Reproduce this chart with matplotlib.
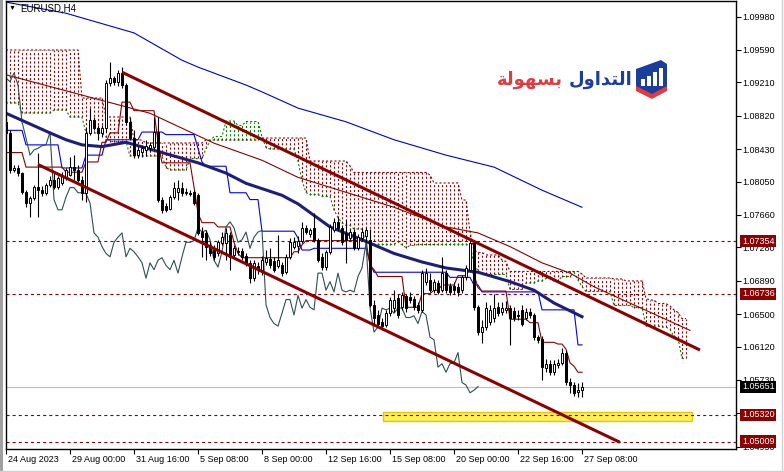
import numpy as np
import matplotlib
matplotlib.use('Agg')
import matplotlib.pyplot as plt
from matplotlib.patches import Rectangle, Polygon
from matplotlib.collections import LineCollection
import matplotlib.transforms as mtransforms

plt.rcParams['font.family'] = ['Liberation Sans', 'DejaVu Sans']
plt.rcParams['lines.scale_dashes'] = False

# ---------------- data (EURUSD H4) ----------------
opens = [1.0875,1.0862,1.0819,1.0821,1.0815,1.0793,1.0780,1.0786,1.0799,1.0795,
         1.0792,1.0801,1.0807,1.0799,1.0803,1.0809,1.0813,1.0822,1.0819,1.0807,
         1.0792,1.0862,1.0877,1.0868,1.0862,1.0868,1.0920,1.0926,1.0922,1.0932,
         1.0918,1.0875,1.0856,1.0836,1.0840,1.0842,1.0844,1.0846,1.0863,1.0784,
         1.0777,1.0773,1.0787,1.0793,1.0798,1.0793,1.0792,1.0793,1.0789,1.0746,
         1.0745,1.0731,1.0725,1.0721,1.0733,1.0733,1.0743,1.0719,1.0724,1.0724,
         1.0718,1.0710,1.0692,1.0706,1.0699,1.0711,1.0714,1.0712,1.0706,1.0707,
         1.0699,1.0717,1.0729,1.0730,1.0736,1.0751,1.0744,1.0751,1.0737,1.0717,
         1.0705,1.0723,1.0748,1.0758,1.0751,1.0745,1.0739,1.0746,1.0727,1.0739,
         1.0741,1.0737,1.0661,1.0649,1.0641,1.0637,1.0651,1.0657,1.0669,1.0658,
         1.0671,1.0670,1.0668,1.0661,1.0655,1.0688,1.0690,1.0678,1.0686,1.0678,
         1.0698,1.0683,1.0683,1.0682,1.0678,1.0694,1.0702,1.0733,1.0658,1.0629,
         1.0635,1.0641,1.0646,1.0658,1.0652,1.0655,1.0657,1.0654,1.0649,1.0655,
         1.0646,1.0653,1.0649,1.0623,1.0621,1.0587,1.0592,1.0582,1.0590,1.0593,
         1.0605,1.0571,1.0567,1.0559,1.0561]
highs = [1.0879,1.0865,1.0824,1.0824,1.0816,1.0795,1.0788,1.0801,1.0839,1.0800,
         1.0803,1.0812,1.0815,1.0812,1.0816,1.0821,1.0834,1.0836,1.0824,1.0812,
         1.0868,1.0891,1.0881,1.0871,1.0871,1.0924,1.0945,1.0929,1.0936,1.0939,
         1.0920,1.0879,1.0865,1.0846,1.0848,1.0854,1.0851,1.0881,1.0881,1.0787,
         1.0780,1.0789,1.0805,1.0807,1.0805,1.0798,1.0795,1.0795,1.0792,1.0752,
         1.0748,1.0734,1.0731,1.0737,1.0746,1.0751,1.0746,1.0731,1.0728,1.0727,
         1.0721,1.0713,1.0713,1.0711,1.0718,1.0725,1.0727,1.0717,1.0743,1.0711,
         1.0720,1.0739,1.0740,1.0741,1.0758,1.0754,1.0751,1.0768,1.0739,1.0721,
         1.0725,1.0756,1.0762,1.0764,1.0754,1.0760,1.0751,1.0750,1.0744,1.0751,
         1.0752,1.0750,1.0667,1.0655,1.0646,1.0655,1.0670,1.0678,1.0674,1.0676,
         1.0674,1.0676,1.0671,1.0664,1.0702,1.0704,1.0698,1.0691,1.0690,1.0717,
         1.0702,1.0686,1.0688,1.0686,1.0696,1.0708,1.0737,1.0737,1.0661,1.0643,
         1.0664,1.0661,1.0674,1.0664,1.0664,1.0665,1.0661,1.0658,1.0655,1.0661,
         1.0657,1.0657,1.0651,1.0626,1.0624,1.0598,1.0596,1.0596,1.0598,1.0610,
         1.0608,1.0575,1.0571,1.0569,1.0571]
lows = [1.0858,1.0815,1.0816,1.0812,1.0791,1.0775,1.0764,1.0784,1.0764,1.0788,
        1.0789,1.0799,1.0796,1.0796,1.0801,1.0807,1.0811,1.0807,1.0805,1.0784,
        1.0781,1.0860,1.0865,1.0854,1.0857,1.0863,1.0917,1.0918,1.0917,1.0915,
        1.0871,1.0854,1.0833,1.0833,1.0834,1.0835,1.0840,1.0843,1.0781,1.0768,
        1.0770,1.0772,1.0785,1.0784,1.0788,1.0789,1.0788,1.0778,1.0743,1.0717,
        1.0713,1.0718,1.0713,1.0718,1.0731,1.0713,1.0702,1.0716,1.0719,1.0713,
        1.0706,1.0686,1.0689,1.0697,1.0696,1.0707,1.0704,1.0699,1.0704,1.0695,
        1.0697,1.0714,1.0726,1.0721,1.0733,1.0744,1.0740,1.0734,1.0711,1.0702,
        1.0702,1.0720,1.0746,1.0748,1.0731,1.0710,1.0737,1.0725,1.0725,1.0737,
        1.0734,1.0658,1.0639,1.0635,1.0631,1.0635,1.0648,1.0653,1.0646,1.0655,
        1.0653,1.0663,1.0655,1.0651,1.0652,1.0684,1.0676,1.0675,1.0674,1.0676,
        1.0675,1.0672,1.0674,1.0671,1.0675,1.0690,1.0699,1.0655,1.0626,1.0616,
        1.0631,1.0637,1.0641,1.0648,1.0649,1.0651,1.0614,1.0642,1.0643,1.0636,
        1.0643,1.0646,1.0620,1.0616,1.0573,1.0582,1.0579,1.0579,1.0587,1.0590,
        1.0567,1.0558,1.0554,1.0553,1.0553]
closes = [1.0862,1.0819,1.0821,1.0815,1.0793,1.0780,1.0786,1.0799,1.0795,1.0792,
          1.0801,1.0807,1.0799,1.0809,1.0813,1.0819,1.0822,1.0819,1.0807,1.0792,
          1.0862,1.0877,1.0868,1.0862,1.0868,1.0920,1.0926,1.0922,1.0932,1.0918,
          1.0875,1.0856,1.0836,1.0842,1.0844,1.0847,1.0848,1.0863,1.0784,1.0772,
          1.0772,1.0787,1.0798,1.0798,1.0792,1.0792,1.0791,1.0780,1.0745,1.0740,
          1.0729,1.0721,1.0717,1.0734,1.0740,1.0745,1.0717,1.0727,1.0723,1.0717,
          1.0710,1.0692,1.0710,1.0702,1.0713,1.0716,1.0707,1.0702,1.0713,1.0698,
          1.0717,1.0734,1.0734,1.0736,1.0751,1.0746,1.0748,1.0737,1.0713,1.0705,
          1.0723,1.0752,1.0758,1.0751,1.0734,1.0737,1.0746,1.0727,1.0740,1.0746,
          1.0748,1.0661,1.0646,1.0639,1.0636,1.0651,1.0667,1.0667,1.0649,1.0672,
          1.0657,1.0667,1.0658,1.0655,1.0698,1.0698,1.0678,1.0688,1.0676,1.0698,
          1.0678,1.0676,1.0678,1.0676,1.0694,1.0704,1.0733,1.0658,1.0629,1.0635,
          1.0657,1.0655,1.0657,1.0651,1.0657,1.0657,1.0646,1.0646,1.0648,1.0639,
          1.0653,1.0649,1.0623,1.0620,1.0588,1.0592,1.0582,1.0592,1.0593,1.0605,
          1.0570,1.0567,1.0558,1.0561,1.05651]

date_tick_bars = [0, 16, 32, 48, 64, 80, 96, 112, 128, 144]
date_labels = ['24 Aug 2023', '29 Aug 00:00', '31 Aug 16:00', '5 Sep 08:00', '8 Sep 00:00',
               '12 Sep 16:00', '15 Sep 08:00', '20 Sep 00:00', '22 Sep 16:00', '27 Sep 08:00']
price_ticks = [1.09980, 1.09590, 1.09210, 1.08820, 1.08430, 1.08050, 1.07660, 1.07280,
               1.06890, 1.06500, 1.06120, 1.05730, 1.05340, 1.04950]

# Ichimoku Tenkan / Kijun (level changes: bar index -> level)
tenkan_bars = [0,5,15,20,24,26,29,32,38,39,47,48,49,53,57,58,59,72,74,75,91,92,93,100,104,107,109,113,116,117,118,119,126,131,134,138,140,141,142,143]
tenkan_vals = [1.0839,1.0822,1.0816,1.0828,1.0851,1.0862,1.0898,1.0888,1.0851,1.0827,1.0799,1.0768,1.0757,1.0752,1.0734,1.0721,1.0716,1.0723,1.0731,1.0736,1.0707,1.0702,1.0694,1.0658,1.0674,1.0678,1.0684,1.0695,1.0704,1.0696,1.0681,1.0677,1.0644,1.0640,1.0617,1.0615,1.0609,1.0593,1.0589,1.0582]
kijun_bars = [0,5,14,20,25,34,40,48,49,50,56,61,64,73,74,77,91,92,111,117,119,134,143]
kijun_vals = [1.0865,1.0848,1.0821,1.0836,1.0854,1.0863,1.0860,1.0844,1.0828,1.0823,1.0792,1.0784,1.0747,1.0739,1.0725,1.0727,1.0710,1.0699,1.0693,1.0684,1.0676,1.0655,1.0614]
# Senkou spans (already shifted 26 bars forward)
spana_bars = [0,4,12,16,20,25,26,31,40,41,46,50,51,52,55,58,60,64,65,66,73,74,75,76,79,82,83,84,85,87,90,98,99,100,101,103,117,118,119,126,130,133,135,137,139,142,143,144,145,152,157,160,164,166,167,168,169]
spana_vals = [1.08970,1.08853,1.08888,1.08806,1.08619,1.08572,1.08519,1.08350,1.08215,1.08186,1.08321,1.08438,1.08525,1.08578,1.08759,1.08707,1.08753,1.08572,1.08449,1.08432,1.08291,1.08063,1.07923,1.07899,1.07876,1.07718,1.07630,1.07566,1.07537,1.07496,1.07314,1.07349,1.07309,1.07279,1.07303,1.07314,1.07086,1.07004,1.06964,1.06788,1.06864,1.06888,1.06917,1.06888,1.06940,1.06987,1.06899,1.06823,1.06765,1.06601,1.06577,1.06361,1.06349,1.06320,1.06238,1.06221,1.05981]
spanb_bars = [0,19,25,32,35,50,64,76,86,87,106,107,114,116,117,118,120,124,125,126,144,145,152,155,160,161,163,166,167,168,169]
spanb_vals = [1.09590,1.09028,1.08806,1.08537,1.08502,1.08537,1.08560,1.08291,1.08233,1.08157,1.08128,1.08034,1.07835,1.07461,1.07250,1.07221,1.07192,1.07133,1.07115,1.06999,1.06970,1.06923,1.06911,1.06888,1.06683,1.06665,1.06624,1.06595,1.06548,1.06519,1.06448]
cloud_len = 171

# Moving averages (bar index, value)
ma_slow_idx = [0, 15, 32, 44, 48, 60, 64, 73, 85, 97, 110, 122, 134, 144]
ma_slow_val = [1.1015, 1.1002, 1.0979, 1.0947, 1.0939, 1.0918, 1.0910, 1.0891, 1.0875, 1.0854, 1.0836, 1.0822, 1.0795, 1.0775]
ma_mid_idx = [0, 11, 15, 19, 24, 30, 36, 48, 55, 60, 69, 73, 81, 89, 97, 104, 110, 118, 126, 132, 137, 144]
ma_mid_val = [1.0885, 1.0862, 1.0854, 1.0848, 1.0846, 1.0851, 1.0843, 1.0827, 1.0815, 1.0803, 1.0789, 1.0779, 1.0752, 1.0737, 1.0721, 1.0711, 1.0704, 1.0699, 1.0688, 1.0678, 1.0663, 1.0647]
ma_red_idx = [0, 36, 52, 64, 73, 97, 110, 118, 126, 134, 141, 147, 171]
ma_red_val = [1.0930, 1.0885, 1.0850, 1.0830, 1.0810, 1.0775, 1.0752, 1.0745, 1.0729, 1.0710, 1.0698, 1.0682, 1.0631]

# Channel trendlines (bar, price)
upper_channel = [(29, 1.0933), (173.5, 1.0608)]
lower_channel = [(8, 1.0825), (153.5, 1.0500)]

hlines = [1.07354, 1.06736, 1.05320, 1.05009]
bid_price = 1.05651
zone_bars = (94.25, 171.5)
zone_prices = (1.05249, 1.05354)

# ---------------- figure ----------------
W, H = 784, 472
fig = plt.figure(figsize=(W / 100, H / 100), dpi=100)
fig.patch.set_facecolor('white')
L, R, T, B = 5.5, 735.5, 0.5, 449.0
ax = fig.add_axes([L / W, 1 - B / H, (R - L) / W, (B - T) / H])
ax.set_facecolor('white')

x_left = -0.125
x_right = x_left + (R - L) / 4.0
ax.set_xlim(x_left, x_right)
ax.set_ylim(1.04922, 1.10169)

n = len(closes)
idx = np.arange(n)

def expand(bars, vals, length):
    arr = np.empty(length)
    for b, v in zip(bars, vals):
        arr[b:] = v
    return arr

red = '#8B0000'
green = '#008000'

# cloud
sa = expand(spana_bars, spana_vals, cloud_len)
sb = expand(spanb_bars, spanb_vals, cloud_len)
ci = np.arange(cloud_len)
segs_r, segs_g = [], []
for i in ci:
    lo, hi = min(sa[i], sb[i]), max(sa[i], sb[i])
    if sb[i] >= sa[i]:
        segs_r.append([(i, lo), (i, hi)])
    else:
        segs_g.append([(i, lo), (i, hi)])
ax.add_collection(LineCollection(segs_r, colors=red, linewidths=0.8, linestyles=[(0, (1.5, 1.5))], zorder=1))
ax.add_collection(LineCollection(segs_g, colors=green, linewidths=0.8, linestyles=[(0, (1.5, 1.5))], zorder=1))
ax.plot(ci, sb, color=red, lw=0.8, ls=(0, (1.5, 1.5)), zorder=1.1)
ax.plot(ci, sa, color=green, lw=0.8, ls=(0, (1.5, 1.5)), zorder=1.1)

# horizontal levels
for lv in hlines:
    ax.axhline(lv, color=red, lw=0.8, ls=(0, (2.2, 2.2)), zorder=1.2)

# zone rectangle
ax.add_patch(Rectangle((zone_bars[0], zone_prices[0]), zone_bars[1] - zone_bars[0],
                       zone_prices[1] - zone_prices[0], facecolor='#FFEF5A',
                       edgecolor='#EBC400', lw=1.0, zorder=1.15))
ax.axhline(bid_price, color='#C0C0C0', lw=0.9, zorder=1.3)

# indicators
ax.plot(ma_slow_idx, ma_slow_val, color='#0000C8', lw=0.8, zorder=2)
ax.plot(ma_red_idx, ma_red_val, color=red, lw=0.8, zorder=2)
ax.plot(ma_mid_idx, ma_mid_val, color='#1E1E78', lw=2.2, zorder=2.2)
ax.plot(idx, expand(kijun_bars, kijun_vals, n), color='#0000FF', lw=0.8, zorder=2.1)
ax.plot(idx, expand(tenkan_bars, tenkan_vals, n), color=red, lw=0.8, zorder=2.1)
ax.plot(np.arange(n - 26), closes[26:], color='#2F4F4F', lw=0.8, zorder=2.1)

# candles
o = np.array(opens); h = np.array(highs); l = np.array(lows); c = np.array(closes)
ax.vlines(idx, l, h, color='black', lw=0.8, zorder=3)
bw = 0.72
for i in range(n):
    bot = min(o[i], c[i]); ht = max(abs(c[i] - o[i]), 0.00003)
    bull = c[i] >= o[i]
    ax.add_patch(Rectangle((i - bw / 2, bot), bw, ht,
                           facecolor='white' if bull else 'black',
                           edgecolor='black', lw=0.7, zorder=3.1))

# channel lines
for ch in (upper_channel, lower_channel):
    ax.plot([p[0] for p in ch], [p[1] for p in ch], color='#8B0000', lw=2.2,
            solid_capstyle='butt', zorder=3.5)

# axes styling
for s in ax.spines.values():
    s.set_color('black'); s.set_linewidth(1.0)
ax.yaxis.tick_right()
ax.set_yticks(price_ticks)
ax.set_yticklabels(['%.5f' % v for v in price_ticks])
ax.set_xticks(date_tick_bars)
ax.set_xticklabels(date_labels, ha='left')
ax.tick_params(axis='y', direction='out', length=3.5, width=0.8, pad=1.5, labelsize=6.5, colors='black')
ax.tick_params(axis='x', direction='out', length=3.5, width=0.8, pad=1.0, labelsize=6.5, colors='black')
for lab in ax.get_xticklabels():
    lab.set_x(lab.get_position()[0])
offset = mtransforms.ScaledTranslation(1.5 / 72, 0, fig.dpi_scale_trans)
for lab in ax.get_xticklabels():
    lab.set_transform(lab.get_transform() + offset)

# price tag boxes on the right axis
trans = mtransforms.blended_transform_factory(ax.transAxes, ax.transData)
xb = 1.0 + 6.5 / (R - L)
for lv in hlines:
    ax.text(xb, lv, '%.5f' % lv, transform=trans, ha='left', va='center', fontsize=6.5,
            color='white', clip_on=False, zorder=6,
            bbox=dict(boxstyle='square,pad=0.18', fc='#8B0000', ec='none'))
ax.text(xb, bid_price, '%.5f' % bid_price, transform=trans, ha='left', va='center', fontsize=6.5,
        color='white', clip_on=False, zorder=6,
        bbox=dict(boxstyle='square,pad=0.18', fc='black', ec='none'))

# title
fig.text(9 / W, 1 - 8 / H, '\u25BC', fontsize=5, color='black', va='center', ha='left')
fig.text(20.5 / W, 1 - 8.5 / H, 'EURUSD,H4', fontsize=7, color='black', va='center', ha='left')

# outer window edges
fig.add_artist(Rectangle((0, 0), 2.5 / W, 1, transform=fig.transFigure, fc='#A0A0A0', ec='none'))
fig.add_artist(plt.Line2D([781.5 / W, 781.5 / W], [0, 1], transform=fig.transFigure, color='#D0D0D0', lw=1))
fig.add_artist(plt.Line2D([0, 1], [1.5 / H, 1.5 / H], transform=fig.transFigure, color='#D0D0D0', lw=1))

# logo: Arabic text (pre-shaped presentation forms, visual order)
word_blue = '\uFEDD\uFEED\uFE8D\uFEAA\uFE98\uFEDF\uFE8D'   # التداول
word_red = '\uFE94\uFEDF\uFEEE\uFEEC\uFEB4\uFE91'         # بسهولة
fig.text(632 / W, 1 - 80 / H, word_blue, fontsize=13, fontweight='bold', color='#1B3E9C',
         ha='right', va='center', family=['DejaVu Sans'])
fig.text(563 / W, 1 - 80 / H, word_red, fontsize=13, fontweight='bold', color='#E23B3F',
         ha='right', va='center', family=['DejaVu Sans'])
lax = fig.add_axes([635 / W, 1 - 100 / H, 33 / W, 42 / H])
lax.set_xlim(0, 33); lax.set_ylim(42, 0); lax.axis('off')
lax.add_patch(Polygon([(1, 11), (26, 2), (32, 6), (32, 30), (17, 38), (1, 30)], closed=True,
                      fc='#1B3E9C', ec='none'))
for bx, top in zip([6, 12, 18, 24], [21, 18, 14, 10]):
    lax.add_patch(Rectangle((bx, top), 3.5, 28 - top, fc='white', ec='none'))
lax.add_patch(Polygon([(1, 28), (17, 36), (32, 28), (32, 33), (17, 41), (1, 33)], closed=True,
                      fc='#E23B3F', ec='none'))

fig.savefig('out.png', dpi=100, facecolor='white')
